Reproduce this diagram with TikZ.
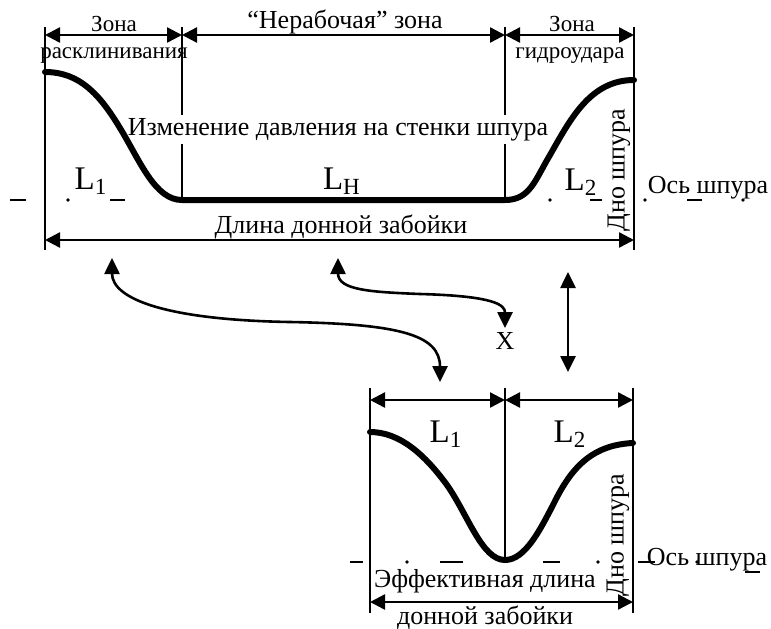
\documentclass[tikz,border=0pt]{standalone}
\usepackage{fontspec}
\setmainfont{Liberation Serif}
\usetikzlibrary{arrows.meta}
\tikzset{
  every node/.style={font=\fontsize{13}{15}\selectfont, text=black, inner sep=0pt},
  small/.style={font=\fontsize{11.5}{13}\selectfont},
  big/.style={font=\fontsize{16.5}{19}\selectfont},
  frame/.style={draw=black, line width=1.2pt},
  profile/.style={draw=black, line width=3pt, line cap=round},
  axis/.style={draw=black, line width=1.3pt},
  dimension/.style={{Triangle[length=7.5pt,width=7.5pt]}-{Triangle[length=7.5pt,width=7.5pt]}, draw=black, line width=1.2pt},
  link/.style={{Triangle[length=8pt,width=7.5pt]}-{Triangle[length=8pt,width=7.5pt]}, draw=black, line width=1.3pt},
}

\begin{document}
\begin{tikzpicture}[x=0.5pt,y=-0.5pt]
  \useasboundingbox (0,0) rectangle (771,628);
  % Axis of the hole, upper diagram
  \foreach \a/\b in {10/26,110/125,590/602,687/702}
    \draw[axis] (\a,200) -- (\b,200);
  \foreach \x in {68,550,645,743}
    \fill (\x,200) circle[radius=0.9pt];
  % Axis of the hole, lower diagram
  \foreach \a/\b/\y in {350/363/562,440/463/562,543/560/562,638/655/562,745/760/572}
    \draw[axis] (\a,\y) -- (\b,\y);
  \foreach \x in {407,598,697}
    \fill (\x,562) circle[radius=0.9pt];

  % Upper diagram: zone borders
  \draw[frame] (45,27) -- (45,250);
  \draw[frame] (182,27) -- (182,200);
  \draw[frame] (505,27) -- (505,200);
  \draw[frame] (634,27) -- (634,250);
  % Zone dimensions
  \coordinate (zA) at (45,35);
  \coordinate (zB) at (182,35);
  \coordinate (zC) at (505,35);
  \coordinate (zD) at (634,35);
  \draw[dimension] (zA) -- (zB);
  \draw[dimension] (zB) -- (zC);
  \draw[dimension] (zC) -- (zD);
  \node[small, anchor=base] (zona1) at (114,31) {Зона};
  \node[small, anchor=base] (zona1b) at (114,58) {расклинивания};
  \node[anchor=base] (zonaN) at (345,28) {“Нерабочая” зона};
  \node[small, anchor=base] (zona2) at (572,31) {Зона};
  \node[small, anchor=base] (zona2b) at (570,58) {гидроудара};
  % Pressure profile
  \node[anchor=base, fill=white, inner ysep=1.5pt] (press) at (338,135)
    {Изменение давления на стенки шпура};
  \draw[profile] (45,72) .. controls (80,72) and (100,95) .. (120,128)
    .. controls (140,161) and (155,200) .. (182,200) -- (505,200)
    .. controls (530,200) and (535,180) .. (550,155)
    .. controls (570,120) and (590,80) .. (634,80);
  \node[big, anchor=base] (lenA) at (91,189) {L\textsubscript{1}};
  \node[big, anchor=base] (lenH) at (342,189) {L\textsubscript{H}};
  \node[big, anchor=base] (lenB) at (581,190) {L\textsubscript{2}};
  \node[anchor=base] (axisU) at (708,193) {Ось шпура};
  \node[rotate=90] (bottomU) at (619,170) {Дно шпура};
  % Total length
  \coordinate (tA) at (45,240);
  \coordinate (tB) at (634,240);
  \draw[dimension] (tA) -- (tB);
  \node[anchor=base] (total) at (341,233) {Длина донной забойки};

  % Links between the diagrams
  \coordinate (kA) at (112,258);
  \coordinate (kB) at (440,382);
  \coordinate (kC) at (338,258);
  \coordinate (kD) at (505,328);
  \coordinate (kE) at (568,272);
  \coordinate (kF) at (568,372);
  \draw[link] (kA) .. controls (112,300) and (170,320) .. (290,322)
    .. controls (400,324) and (440,335) .. (kB);
  \draw[link] (kC) .. controls (338,290) and (370,292) .. (420,294)
    .. controls (495,296) and (505,305) .. (kD);
  \draw[link] (kE) -- (kF);
  \node (xmark) at (505,341) {X};

  % Lower diagram: borders
  \draw[frame] (370,388) -- (370,613);
  \draw[frame] (505,388) -- (505,562);
  \draw[frame] (633,388) -- (633,613);
  \coordinate (eA) at (370,400);
  \coordinate (eB) at (505,400);
  \coordinate (eC) at (633,400);
  \draw[dimension] (eA) -- (eB);
  \draw[dimension] (eB) -- (eC);
  % Effective profile
  \draw[profile] (370,432) .. controls (400,432) and (425,455) .. (447,485)
    .. controls (468,515) and (482,560) .. (505,560)
    .. controls (525,560) and (540,530) .. (553,505)
    .. controls (570,470) and (590,445) .. (633,443);
  \node[big, anchor=base] (effA) at (446,442) {L\textsubscript{1}};
  \node[big, anchor=base] (effB) at (570,442) {L\textsubscript{2}};
  \node[anchor=base] (axisL) at (707,565) {Ось шпура};
  \node[rotate=90] (bottomL) at (618,535) {Дно шпура};
  \coordinate (fA) at (370,602);
  \coordinate (fB) at (633,602);
  \draw[dimension] (fA) -- (fB);
  \node[anchor=base] (eff1) at (485,587) {Эффективная длина};
  \node[anchor=base] (eff2) at (485,624) {донной забойки};
\end{tikzpicture}
\end{document}
